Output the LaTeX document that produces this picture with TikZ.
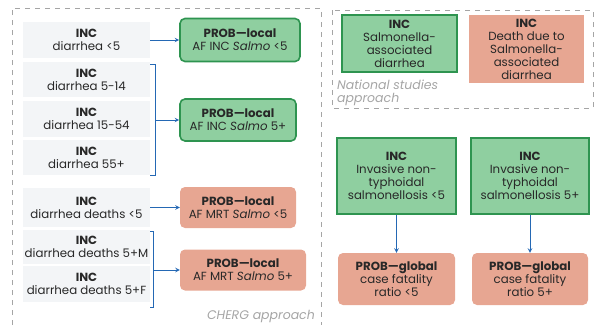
\documentclass[tikz,border=0pt]{standalone}
\usepackage{fontspec}
\setmainfont{Poppins}
\usepackage{tikz}

\definecolor{boxgreen}{RGB}{143,207,160}
\definecolor{edgegreen}{RGB}{46,148,80}
\definecolor{boxred}{RGB}{231,166,146}
\definecolor{boxgray}{RGB}{243,245,247}
\definecolor{linkblue}{RGB}{36,104,180}
\definecolor{textgray}{RGB}{40,40,40}
\definecolor{framegray}{RGB}{165,165,165}

\begin{document}
\begin{tikzpicture}[x=1pt, y=-1pt, font=\fontsize{11.8}{13}\selectfont, text=textgray,
        inc/.style={fill=boxgray, minimum width=127pt, align=center, inner sep=0pt},
        prob/.style={rounded corners=5pt, align=center, inner sep=0pt},
        probgreen/.style={prob, fill=boxgreen, draw=edgegreen, line width=1.6pt},
        probred/.style={prob, fill=boxred},
        incgreen/.style={fill=boxgreen, draw=edgegreen, line width=1.6pt, align=center, inner sep=0pt},
        incred/.style={fill=boxred, align=center, inner sep=0pt},
        link/.style={->, >=stealth, draw=linkblue, line width=1pt},
        brace/.style={draw=linkblue, line width=1pt},
        frame/.style={draw=framegray, dash pattern=on 5pt off 5pt, line width=0.8pt},
        note/.style={text=framegray, font=\fontsize{12.5}{13}\selectfont\itshape}]
        \useasboundingbox (0,0) rectangle (597,325);

        % dashed frames
        \draw[frame] (12,325) -- (12,8) -- (321,8) -- (321,325);
        \draw[frame] (332,10) rectangle (593,108);
        \node[note, anchor=east, inner sep=0pt] (cherg) at (315,316) {CHERG approach};
        \node[note, anchor=north west, align=left, inner sep=0pt] (natl) at (337,80) {National studies\\approach};

        % CHERG: incidence boxes
        \node[inc, minimum height=36pt] (diar1) at (86.5,40) {\textbf{INC}\\diarrhea <5};
        \node[inc, minimum height=35pt] (diar2) at (86.5,79.5) {\textbf{INC}\\diarrhea 5-14};
        \node[inc, minimum height=36pt] (diar3) at (86.5,118.5) {\textbf{INC}\\diarrhea 15-54};
        \node[inc, minimum height=35pt] (diar4) at (86.5,157.5) {\textbf{INC}\\diarrhea 55+};
        \node[inc, minimum height=39pt] (death1) at (86.5,207.5) {\textbf{INC}\\diarrhea deaths <5};
        \node[inc, minimum height=34pt] (death2) at (86.5,247) {\textbf{INC}\\diarrhea deaths 5+M};
        \node[inc, minimum height=36pt] (death3) at (86.5,284) {\textbf{INC}\\diarrhea deaths 5+F};

        % CHERG: local probabilities
        \node[probgreen, minimum width=120pt, minimum height=43pt] (afinc1) at (240,40) {\textbf{PROB—local}\\AF INC \textit{Salmo} <5};
        \node[probgreen, minimum width=116pt, minimum height=42pt] (afinc2) at (238,120) {\textbf{PROB—local}\\AF INC \textit{Salmo} 5+};
        \node[probred, minimum width=116pt, minimum height=41pt] (afmrt1) at (238,207.5) {\textbf{PROB—local}\\AF MRT \textit{Salmo} <5};
        \node[probred, minimum width=126pt, minimum height=41pt] (afmrt2) at (243,270) {\textbf{PROB—local}\\AF MRT \textit{Salmo} 5+};

        \draw[link] (diar1) -- (afinc1);
        \draw[brace] ([yshift=-3pt]diar2.north east) -- ++(5,0) |- (diar4.south east);
        \coordinate (bra) at (155,120);
        \draw[link] (bra) -- (afinc2);
        \draw[link] (death1) -- (afmrt1);
        \draw[brace] ([yshift=-2pt]death2.north east) -- ++(3,0) |- ([yshift=-5pt]death3.south east);
        \coordinate (brb) at (153,270);
        \draw[link] (brb) -- (afmrt2);

        % national studies
        \node[incgreen, minimum width=115pt, minimum height=57pt] (natinc) at (399.5,43.5) {\textbf{INC}\\Salmonella-\\associated\\diarrhea};
        \node[incred, minimum width=115pt, minimum height=68pt] (natmrt) at (526.5,49) {\textbf{INC}\\Death due to\\Salmonella-\\associated\\diarrhea};

        % invasive disease
        \node[incgreen, minimum width=119pt, minimum height=76pt] (ints1) at (396.5,176) {\textbf{INC}\\Invasive non-\\typhoidal\\salmonellosis <5};
        \node[incgreen, minimum width=118pt, minimum height=76pt] (ints2) at (530,176) {\textbf{INC}\\Invasive non-\\typhoidal\\salmonellosis 5+};
        \node[probred, minimum width=117pt, minimum height=52pt] (cfr1) at (396.5,279) {\textbf{PROB—global}\\case fatality\\ratio <5};
        \node[probred, minimum width=116pt, minimum height=52pt] (cfr2) at (530,279) {\textbf{PROB—global}\\case fatality\\ratio 5+};
        \draw[link] (ints1) -- (cfr1);
        \draw[link] (ints2) -- (cfr2);
\end{tikzpicture}
\end{document}
